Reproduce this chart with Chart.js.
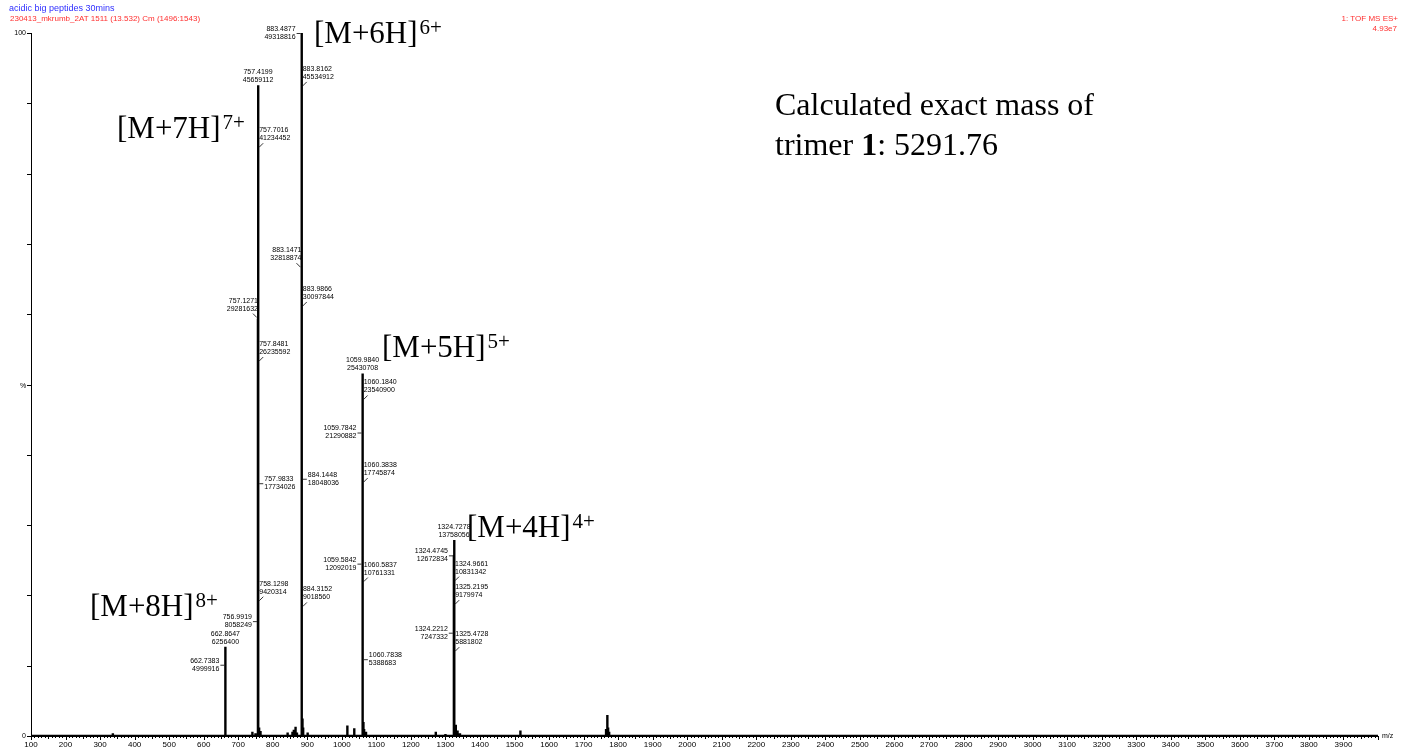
<!DOCTYPE html>
<html>
<head>
<meta charset="utf-8">
<title>acidic big peptides 30mins</title>
<script src="https://cdn.jsdelivr.net/npm/chart.js@4.4.1/dist/chart.umd.min.js"></script>
<style>
    html, body { margin: 0; padding: 0; background: #fff; overflow: hidden; }
    canvas { display: block; }
</style>
</head>
<body>
<canvas id="spectrum" width="1411" height="751"></canvas>
<script>
const BASE_INTENSITY = 49318816;

// labelled peaks (m/z, raw intensity) and where each label sits
const peakMz = [662.7383, 662.8647, 756.9919, 757.1271, 757.4199, 757.7016, 757.8481, 757.9833, 758.1298,
    883.1471, 883.4877, 883.8162, 883.9866, 884.1448, 884.3152,
    1059.5842, 1059.7842, 1059.9840, 1060.1840, 1060.3838, 1060.5837, 1060.7838,
    1324.2212, 1324.4745, 1324.7278, 1324.9661, 1325.2195, 1325.4728];
const peakIntensity = [4999916, 6256400, 8058249, 29281632, 45659112, 41234452, 26235592, 17734026, 9420314,
    32818874, 49318816, 45534912, 30097844, 18048036, 9018560,
    12092019, 21290882, 25430708, 23540900, 17745874, 10761331, 5388683,
    7247332, 12672834, 13758056, 10831342, 9179974, 5881802];
const peakLabelSide = ["L-", "T", "L-", "L\\", "T", "R/", "R/", "R-", "R/",
    "L\\", "L-", "R/", "R/", "R-", "R/",
    "L-", "L-", "T", "R/", "R/", "R/", "R-",
    "L-", "L-", "T", "R/", "R/", "R/"];

// small unlabelled peaks, % of base peak
const minorMz = [337, 741, 750, 760.5, 764.5, 843, 857, 861, 866, 870, 886, 888, 901,
    1016, 1036, 1062.5, 1064.5, 1070, 1272, 1300, 1327, 1330, 1335, 1342,
    1517, 1765, 1767.9, 1769.3, 1771, 1774];
const minorPercent = [0.4, 0.6, 0.4, 1.2, 0.7, 0.5, 0.6, 0.9, 1.3, 0.5, 2.5, 1.2, 0.5,
    1.5, 1.1, 2.0, 1.0, 0.6, 0.6, 0.3, 3.8, 1.6, 0.8, 0.4,
    0.8, 1.0, 3.0, 2.8, 1.2, 0.6];

const xTickLabels = [100, 200, 300, 400, 500, 600, 700, 800, 900, 1000, 1100, 1200, 1300, 1400, 1500,
    1600, 1700, 1800, 1900, 2000, 2100, 2200, 2300, 2400, 2500, 2600, 2700, 2800, 2900, 3000,
    3100, 3200, 3300, 3400, 3500, 3600, 3700, 3800, 3900];
const yTickLabels = [0, 100];

const ionLabels = ["[M+8H]", "[M+7H]", "[M+6H]", "[M+5H]", "[M+4H]"];
const ionCharges = ["8+", "7+", "6+", "5+", "4+"];

const SANS = "'Liberation Sans', Arial, sans-serif";
const SERIF = "'Liberation Serif', 'Times New Roman', serif";

// build the stick spectrum: every peak goes baseline -> top -> baseline
const sticks = peakMz.map((m, i) => ({ mz: m, pct: peakIntensity[i] / BASE_INTENSITY * 100 }))
    .concat(minorMz.map((m, i) => ({ mz: m, pct: minorPercent[i] })))
    .sort((a, b) => a.mz - b.mz);
const points = [{ x: 100, y: 0 }];
sticks.forEach(s => {
    points.push({ x: s.mz, y: 0 }, { x: s.mz, y: s.pct }, { x: s.mz, y: 0 });
});
points.push({ x: 4000, y: 0 });

function line(ctx, x1, y1, x2, y2) {
    ctx.beginPath();
    ctx.moveTo(x1, y1);
    ctx.lineTo(x2, y2);
    ctx.stroke();
}

function ionText(ctx, text, charge, x, y) {
    ctx.font = `31px ${SERIF}`;
    ctx.fillText(text, x, y);
    const w = ctx.measureText(text).width;
    ctx.font = `21px ${SERIF}`;
    ctx.fillText(charge, x + w + 2, y - 9);
}

const spectrumDecor = {
    id: "spectrumDecor",
    afterDraw(chart) {
        const ctx = chart.ctx;
        const xs = chart.scales.x;
        const ys = chart.scales.y;
        const area = chart.chartArea;
        ctx.save();
        ctx.strokeStyle = "#000";
        ctx.fillStyle = "#000";
        ctx.lineWidth = 1;

        // axis tick marks
        for (let v = 0; v <= 100; v += 10) {
            const py = Math.round(ys.getPixelForValue(v)) + 0.5;
            line(ctx, area.left - 4, py, area.left, py);
        }
        for (let m = 100; m <= 4000; m += 10) {
            const px = Math.round(xs.getPixelForValue(m)) + 0.5;
            const len = m % 100 === 0 ? 4 : (m % 50 === 0 ? 3 : 2);
            line(ctx, px, area.bottom, px, area.bottom + len);
        }

        ctx.font = `7px ${SANS}`;
        ctx.textBaseline = "middle";
        ctx.textAlign = "left";
        ctx.fillText("%", 20, 386);
        ctx.fillText("m/z", area.right + 4, area.bottom);

        // header
        ctx.font = `9px ${SANS}`;
        ctx.fillStyle = "#2f2fff";
        ctx.fillText("acidic big peptides 30mins", 9, 9);
        ctx.font = `8px ${SANS}`;
        ctx.fillStyle = "#ff2f2f";
        ctx.fillText("230413_mkrumb_2AT 1511 (13.532) Cm (1496:1543)", 10, 19);
        ctx.textAlign = "right";
        ctx.fillText("1: TOF MS ES+", 1398, 19);
        ctx.fillText("4.93e7", 1397, 29);

        // peak labels
        ctx.fillStyle = "#000";
        ctx.strokeStyle = "#000";
        ctx.lineWidth = 0.8;
        ctx.font = `7px ${SANS}`;
        peakMz.forEach((m, i) => {
            const px = xs.getPixelForValue(m);
            const py = ys.getPixelForValue(peakIntensity[i] / BASE_INTENSITY * 100);
            const mass = m.toFixed(4);
            const inten = String(peakIntensity[i]);
            const side = peakLabelSide[i];
            if (side === "T") {
                ctx.textAlign = "center";
                ctx.fillText(mass, px, py - 13);
                ctx.fillText(inten, px, py - 5);
            } else if (side === "R/") {
                ctx.textAlign = "left";
                ctx.fillText(mass, px + 1, py - 18);
                ctx.fillText(inten, px + 1, py - 10);
                line(ctx, px + 1, py - 1, px + 5, py - 5);
            } else if (side === "R-") {
                ctx.textAlign = "left";
                ctx.fillText(mass, px + 6, py - 4);
                ctx.fillText(inten, px + 6, py + 4);
                line(ctx, px + 1, py + 0.5, px + 5, py + 0.5);
            } else if (side === "L-") {
                ctx.textAlign = "right";
                ctx.fillText(mass, px - 6, py - 4);
                ctx.fillText(inten, px - 6, py + 4);
                line(ctx, px - 5, py + 0.5, px - 1, py + 0.5);
            } else {
                ctx.textAlign = "right";
                ctx.fillText(mass, px, py - 18);
                ctx.fillText(inten, px, py - 10);
                line(ctx, px - 5, py - 5, px - 1, py - 1);
            }
        });

        // charge state annotations
        ctx.textAlign = "left";
        ctx.textBaseline = "alphabetic";
        const ionPos = [[90, 616], [117, 138], [314, 43], [382, 357], [467, 537]];
        ionLabels.forEach((t, i) => ionText(ctx, t, ionCharges[i], ionPos[i][0], ionPos[i][1]));

        ctx.font = `32px ${SERIF}`;
        ctx.fillText("Calculated exact mass of", 775, 115);
        let tx = 775;
        ctx.fillText("trimer ", tx, 155);
        tx += ctx.measureText("trimer ").width;
        ctx.font = `bold 32px ${SERIF}`;
        ctx.fillText("1", tx, 155);
        tx += ctx.measureText("1").width;
        ctx.font = `32px ${SERIF}`;
        ctx.fillText(": 5291.76", tx, 155);

        ctx.restore();
    }
};

new Chart(document.getElementById("spectrum"), {
    type: "scatter",
    data: {
        datasets: [{
            data: points,
            showLine: true,
            borderColor: "#000",
            borderWidth: 2.4,
            borderJoinStyle: "bevel",
            pointRadius: 0,
            tension: 0
        }]
    },
    options: {
        responsive: false,
        animation: false,
        events: [],
        layout: { padding: { left: 0, top: 33, right: 33, bottom: 0 } },
        plugins: {
            legend: { display: false },
            tooltip: { enabled: false }
        },
        scales: {
            x: {
                type: "linear",
                min: 100,
                max: 4000,
                grid: { display: false, drawTicks: false },
                border: { color: "#000", width: 1 },
                ticks: {
                    stepSize: 100,
                    autoSkip: false,
                    maxRotation: 0,
                    padding: 4,
                    color: "#000",
                    font: { family: SANS, size: 8 },
                    callback: v => xTickLabels.includes(v) ? String(v) : ""
                },
                afterFit: scale => { scale.height = 15; }
            },
            y: {
                min: 0,
                max: 100,
                grid: { display: false, drawTicks: false },
                border: { color: "#000", width: 1 },
                ticks: {
                    stepSize: 10,
                    padding: 5,
                    color: "#000",
                    font: { family: SANS, size: 7 },
                    callback: v => yTickLabels.includes(v) ? String(v) : ""
                },
                afterFit: scale => { scale.width = 31; }
            }
        }
    },
    plugins: [spectrumDecor]
});
</script>
</body>
</html>
